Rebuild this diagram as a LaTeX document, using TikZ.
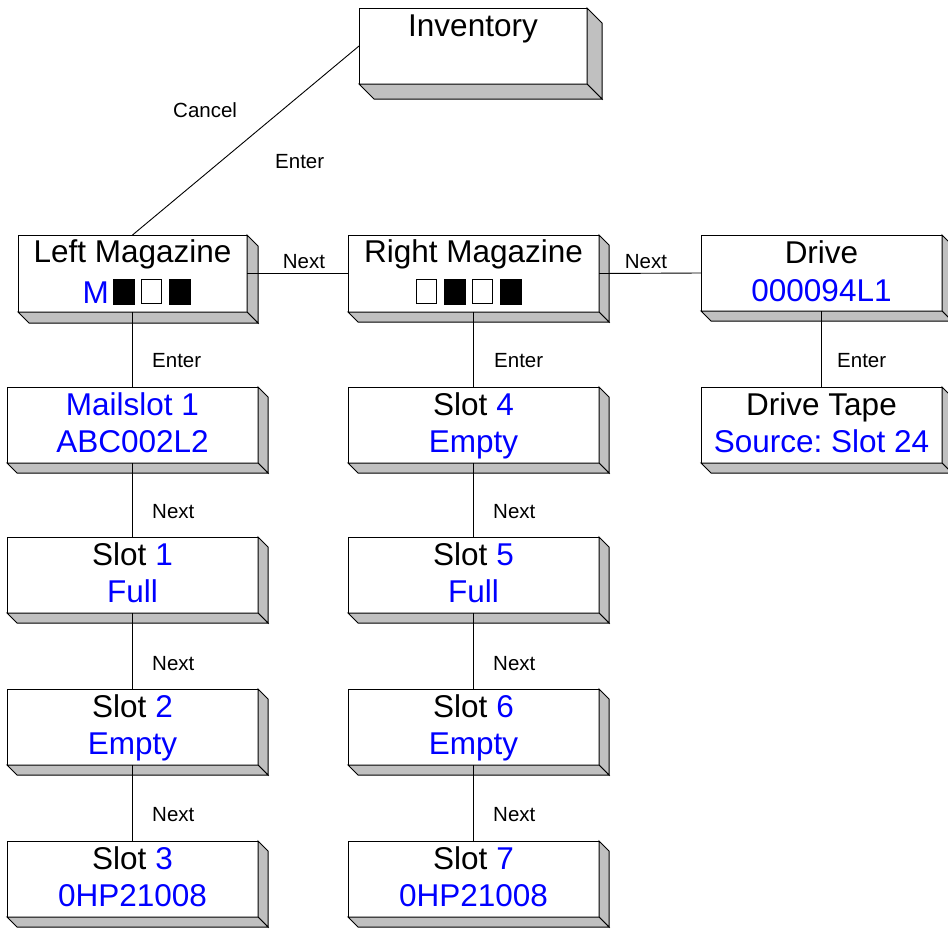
\documentclass[tikz,border=0pt]{standalone}
\usepackage{fontspec}
\setmainfont{Liberation Sans}
\frenchspacing
\definecolor{tblue}{RGB}{0,0,255}
\definecolor{sidegray}{RGB}{192,192,192}
\newcommand\bevel[2]{% name, depth
  \filldraw[fill=sidegray,draw=black,line width=1pt,line join=miter]
    (#1.north east) -- ([shift={(#2,#2)}]#1.north east) -- ([shift={(#2,#2)}]#1.south east) -- (#1.south east) -- cycle;
  \filldraw[fill=sidegray,draw=black,line width=1pt,line join=miter]
    (#1.south west) -- ([shift={(#2,#2)}]#1.south west) -- ([shift={(#2,#2)}]#1.south east) -- (#1.south east) -- cycle;
}
\tikzset{
  front/.style={draw=black,fill=white,line width=1pt,inner sep=0pt,outer sep=0pt,minimum height=76pt},
  big/.style={font=\fontsize{31.5}{36}\selectfont,inner sep=0pt,anchor=base},
  lbl/.style={font=\fontsize{20.5}{24}\selectfont,inner sep=0pt,anchor=base west},
  conn/.style={draw=black,line width=0.9pt},
  sqfull/.style={draw=black,fill=black,line width=1pt,minimum width=21pt,minimum height=25pt,inner sep=0pt},
  sqempty/.style={draw=black,fill=white,line width=1.2pt,minimum width=20pt,minimum height=24pt,inner sep=0pt},
}
\begin{document}
\begin{tikzpicture}[x=1pt,y=-1pt]
\useasboundingbox (0,0) rectangle (948,929);
% boxes
\node[front,minimum width=228pt] (inv) at (473,46) {};
\bevel{inv}{15}
\node[front,minimum width=229pt,minimum height=77pt] (lm) at (132.5,273.5) {};
\bevel{lm}{11}
\node[front,minimum width=251pt,minimum height=77pt] (rm) at (473.5,273.5) {};
\bevel{rm}{10}
\node[front,minimum width=241pt] (drv) at (821.5,273) {};
\bevel{drv}{10}
\node[front,minimum width=241pt] (tape) at (821.5,425) {};
\bevel{tape}{10}
\node[front,minimum width=251pt] (mail) at (132.5,425) {};
\bevel{mail}{10}
\node[front,minimum width=251pt] (s1) at (132.5,575) {};
\bevel{s1}{10}
\node[front,minimum width=251pt] (s2) at (132.5,727) {};
\bevel{s2}{10}
\node[front,minimum width=251pt] (s3) at (132.5,879) {};
\bevel{s3}{10}
\node[front,minimum width=251pt] (s4) at (473.5,425) {};
\bevel{s4}{10}
\node[front,minimum width=251pt] (s5) at (473.5,575) {};
\bevel{s5}{10}
\node[front,minimum width=251pt] (s6) at (473.5,727) {};
\bevel{s6}{10}
\node[front,minimum width=251pt] (s7) at (473.5,879) {};
\bevel{s7}{10}
% connectors
\draw[conn] (inv.west) -- (lm.north);
\draw[conn] (lm.east) -- (rm.west);
\draw[conn] (rm.east) -- (drv.west);
\draw[conn] (lm.south) -- (mail.north);
\draw[conn] (mail.south) -- (s1.north);
\draw[conn] (s1.south) -- (s2.north);
\draw[conn] (s2.south) -- (s3.north);
\draw[conn] (rm.south) -- (s4.north);
\draw[conn] (s4.south) -- (s5.north);
\draw[conn] (s5.south) -- (s6.north);
\draw[conn] (s6.south) -- (s7.north);
\draw[conn] (drv.south) -- (tape.north);
% box texts
\node[big] (inv-t) at ([yshift=-28pt]inv.north) {Inventory};
\node[big] (lm-t) at ([yshift=-27pt]lm.north) {Left Magazine};
\node[big,anchor=base west] (lm-m) at (82.5,303) {\textcolor{tblue}{M}};
\node[sqfull] (lm-q1) at (123.5,291.5) {};
\node[sqempty] (lm-q2) at (151.5,291.5) {};
\node[sqfull] (lm-q3) at (179.5,291.5) {};
\node[big] (rm-t) at ([yshift=-27pt]rm.north) {Right Magazine};
\node[sqempty] (rm-q1) at (426.5,291.5) {};
\node[sqfull] (rm-q2) at (454.5,291.5) {};
\node[sqempty] (rm-q3) at (482.5,291.5) {};
\node[sqfull] (rm-q4) at (510.5,291.5) {};
\node[big] (drv-t) at ([yshift=-28pt]drv.north) {Drive};
\node[big] (drv-v) at ([yshift=-66pt]drv.north) {\textcolor{tblue}{000094L1}};
\node[big] (tape-t) at ([yshift=-28pt]tape.north) {Drive Tape};
\node[big] (tape-v) at ([yshift=-65pt]tape.north) {\textcolor{tblue}{Source: Slot 24}};
\node[big] (mail-t) at ([yshift=-28pt]mail.north) {\textcolor{tblue}{Mailslot 1}};
\node[big] (mail-v) at ([yshift=-65pt]mail.north) {\textcolor{tblue}{ABC002L2}};
\node[big] (s1-t) at ([yshift=-28pt]s1.north) {Slot \textcolor{tblue}{1}};
\node[big] (s1-v) at ([yshift=-65pt]s1.north) {\textcolor{tblue}{Full}};
\node[big] (s2-t) at ([yshift=-28pt]s2.north) {Slot \textcolor{tblue}{2}};
\node[big] (s2-v) at ([yshift=-65pt]s2.north) {\textcolor{tblue}{Empty}};
\node[big] (s3-t) at ([yshift=-28pt]s3.north) {Slot \textcolor{tblue}{3}};
\node[big] (s3-v) at ([yshift=-65pt]s3.north) {\textcolor{tblue}{0HP21008}};
\node[big] (s4-t) at ([yshift=-28pt]s4.north) {Slot \textcolor{tblue}{4}};
\node[big] (s4-v) at ([yshift=-65pt]s4.north) {\textcolor{tblue}{Empty}};
\node[big] (s5-t) at ([yshift=-28pt]s5.north) {Slot \textcolor{tblue}{5}};
\node[big] (s5-v) at ([yshift=-65pt]s5.north) {\textcolor{tblue}{Full}};
\node[big] (s6-t) at ([yshift=-28pt]s6.north) {Slot \textcolor{tblue}{6}};
\node[big] (s6-v) at ([yshift=-65pt]s6.north) {\textcolor{tblue}{Empty}};
\node[big] (s7-t) at ([yshift=-28pt]s7.north) {Slot \textcolor{tblue}{7}};
\node[big] (s7-v) at ([yshift=-65pt]s7.north) {\textcolor{tblue}{0HP21008}};
% connector labels
\node[lbl] (l-cancel) at (173,117) {Cancel};
\node[lbl] (l-enter0) at (275,168) {Enter};
\node[lbl,anchor=base] (l-next1) at (304,268) {Next};
\node[lbl,anchor=base] (l-next2) at (646,268) {Next};
\node[lbl] (l-enter1) at (152,367) {Enter};
\node[lbl] (l-enter2) at (494,367) {Enter};
\node[lbl] (l-enter3) at (837,367) {Enter};
\node[lbl] (l-next3) at (152,518) {Next};
\node[lbl] (l-next4) at (152,670) {Next};
\node[lbl] (l-next5) at (152,821) {Next};
\node[lbl] (l-next6) at (493,518) {Next};
\node[lbl] (l-next7) at (493,670) {Next};
\node[lbl] (l-next8) at (493,821) {Next};
\end{tikzpicture}
\end{document}
